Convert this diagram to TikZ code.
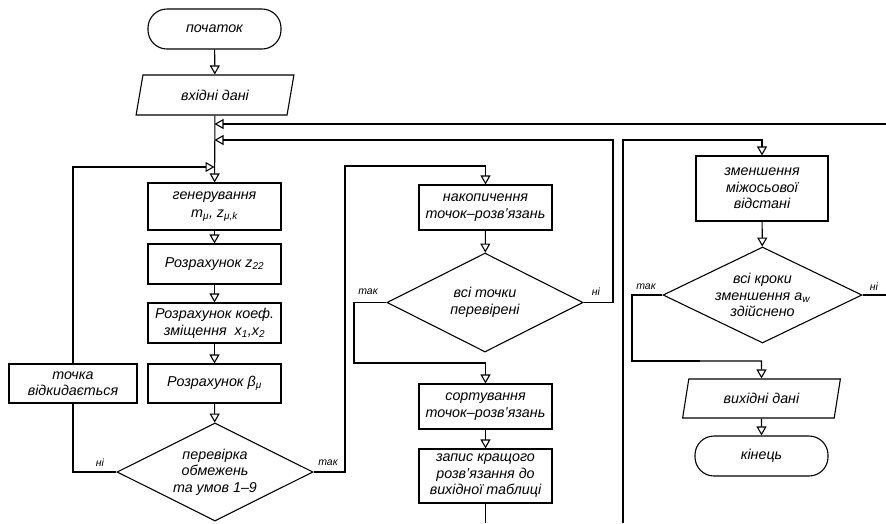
\documentclass[tikz,border=0pt]{standalone}
\usepackage{fontspec}
\setmainfont{Liberation Sans}
\usetikzlibrary{arrows.meta,shapes.geometric}
\begin{document}
\begin{tikzpicture}[x=1pt,y=-1pt,
  line width=1.1pt,
  every node/.style={font=\fontsize{14.3}{16.5}\selectfont\itshape, align=center, inner sep=0pt},
  proc/.style={draw, rectangle, minimum width=133pt},
  term/.style={draw, rectangle, rounded corners=19pt, minimum width=133pt, minimum height=40pt},
  io/.style={draw, trapezium, trapezium left angle=73, trapezium right angle=107, trapezium stretches=true, minimum height=40pt},
  decision/.style={draw, diamond, minimum width=196pt, minimum height=98pt, label={[align=center]center:#1}},
  lbl/.style={font=\fontsize{10.5}{11}\selectfont\itshape},
  flow/.style={-{Triangle[open, length=9pt, width=10pt]}},
]
\useasboundingbox (0,0) rectangle (886,523);

% left column
\node[term] (start) at (214.5,29) {початок};
\node[io, minimum width=158pt] (in) at (215,95) {вхідні дані};
\coordinate (j1) at (214.5,124);
\coordinate (j2) at (214.5,140);
\coordinate (j3) at (214.5,167);
\node[proc, minimum height=47pt] (gen) at (214.5,206.5) {генерування\\[1pt] m\textsubscript{μ}, z\textsubscript{μ,k}};
\node[proc, minimum height=40pt] (z22) at (214.5,264) {Розрахунок z\textsubscript{22}};
\node[proc, minimum height=40pt] (coef) at (214.5,323) {Розрахунок коеф.\\ зміщення \ x\textsubscript{1},x\textsubscript{2}};
\node[proc, minimum height=39pt] (beta) at (214.5,383.5) {Розрахунок β\textsubscript{μ}};
\node[decision={перевірка\\ обмежень\\ та умов 1–9}] (check) at (215,472) {};
\node[proc, minimum width=128pt, minimum height=39pt] (reject) at (73,383.5) {точка\\ відкидається};

% middle column
\node[proc, minimum height=45pt] (acc) at (485.5,207.5) {накопичення\\ точок–розв’язань};
\node[decision={всі точки\\ перевірені}, minimum height=99pt] (all) at (485,302.5) {};
\node[proc, minimum height=45pt] (sort) at (485.5,406.5) {сортування\\ точок–розв’язань};
\node[proc, minimum height=54pt] (write) at (485.5,476) {запис кращого\\ розв’язання до\\ вихідної таблиці};

% right column
\node[proc, minimum width=132pt, minimum height=65pt] (reduce) at (762,188.5) {зменшення\\ міжосьової\\ відстані};
\node[decision={всі кроки\\ зменшення a\textsubscript{w}\\ здійснено}, minimum width=199pt, minimum height=96pt] (steps) at (762.5,295) {};
\node[io, minimum width=159pt, minimum height=39pt] (out) at (761.5,398.5) {вихідні дані};
\node[term] (end) at (761.5,456) {кінець};

% free ends
\coordinate (e1) at (886,124);
\coordinate (e2) at (886,295);
\coordinate (e3) at (485.5,523);
\coordinate (e4) at (623,523);

% main flow
\draw[flow] (start) -- (in);
\draw[flow] (in) -- (gen);
\draw[flow] (gen) -- (z22);
\draw[flow] (z22) -- (coef);
\draw[flow] (coef) -- (beta);
\draw[flow] (beta) -- (check);

% joining arrows on the main line
\draw[flow] (e1) -- (j1);
\draw[flow] (all.east) -- (613,302.5) -- (613,140) -- (j2);
\draw[flow] (reject.north) -- (73,167) -- (j3);

% check branches
\draw (check.west) -- (73,472) -- (reject.south);
\node[lbl] (nol) at (100,463) {ні};
\draw[flow] (check.east) -- (345,472) -- (345,166) -- (485.5,166) -- (acc.north);
\node[lbl] (yesl) at (328,463) {так};

% middle column flow
\draw[flow] (acc) -- (all);
\draw[flow] (all.west) -- (354,302.5) -- (354,363) -- (485.5,363) -- (sort.north);
\node[lbl] (yesm) at (368,292) {так};
\node[lbl] (nom) at (596,292) {ні};
\draw[flow] (sort) -- (write);
\draw (write.south) -- (e3);

% right column flow
\draw[flow] (e4) -- (623,140) -- (762,140) -- (reduce.north);
\draw[flow] (reduce) -- (steps);
\draw[line width=1.8pt] (steps.west) -- (632,295) -- (632,361) -- (700,361);
\draw[flow] (700,361) -- (761.5,361) -- (out.north);
\node[lbl] (yesr) at (646,287) {так};
\draw (steps.east) -- (e2);
\node[lbl] (nor) at (874,287) {ні};
\draw[flow] (out) -- (end);
\end{tikzpicture}
\end{document}
